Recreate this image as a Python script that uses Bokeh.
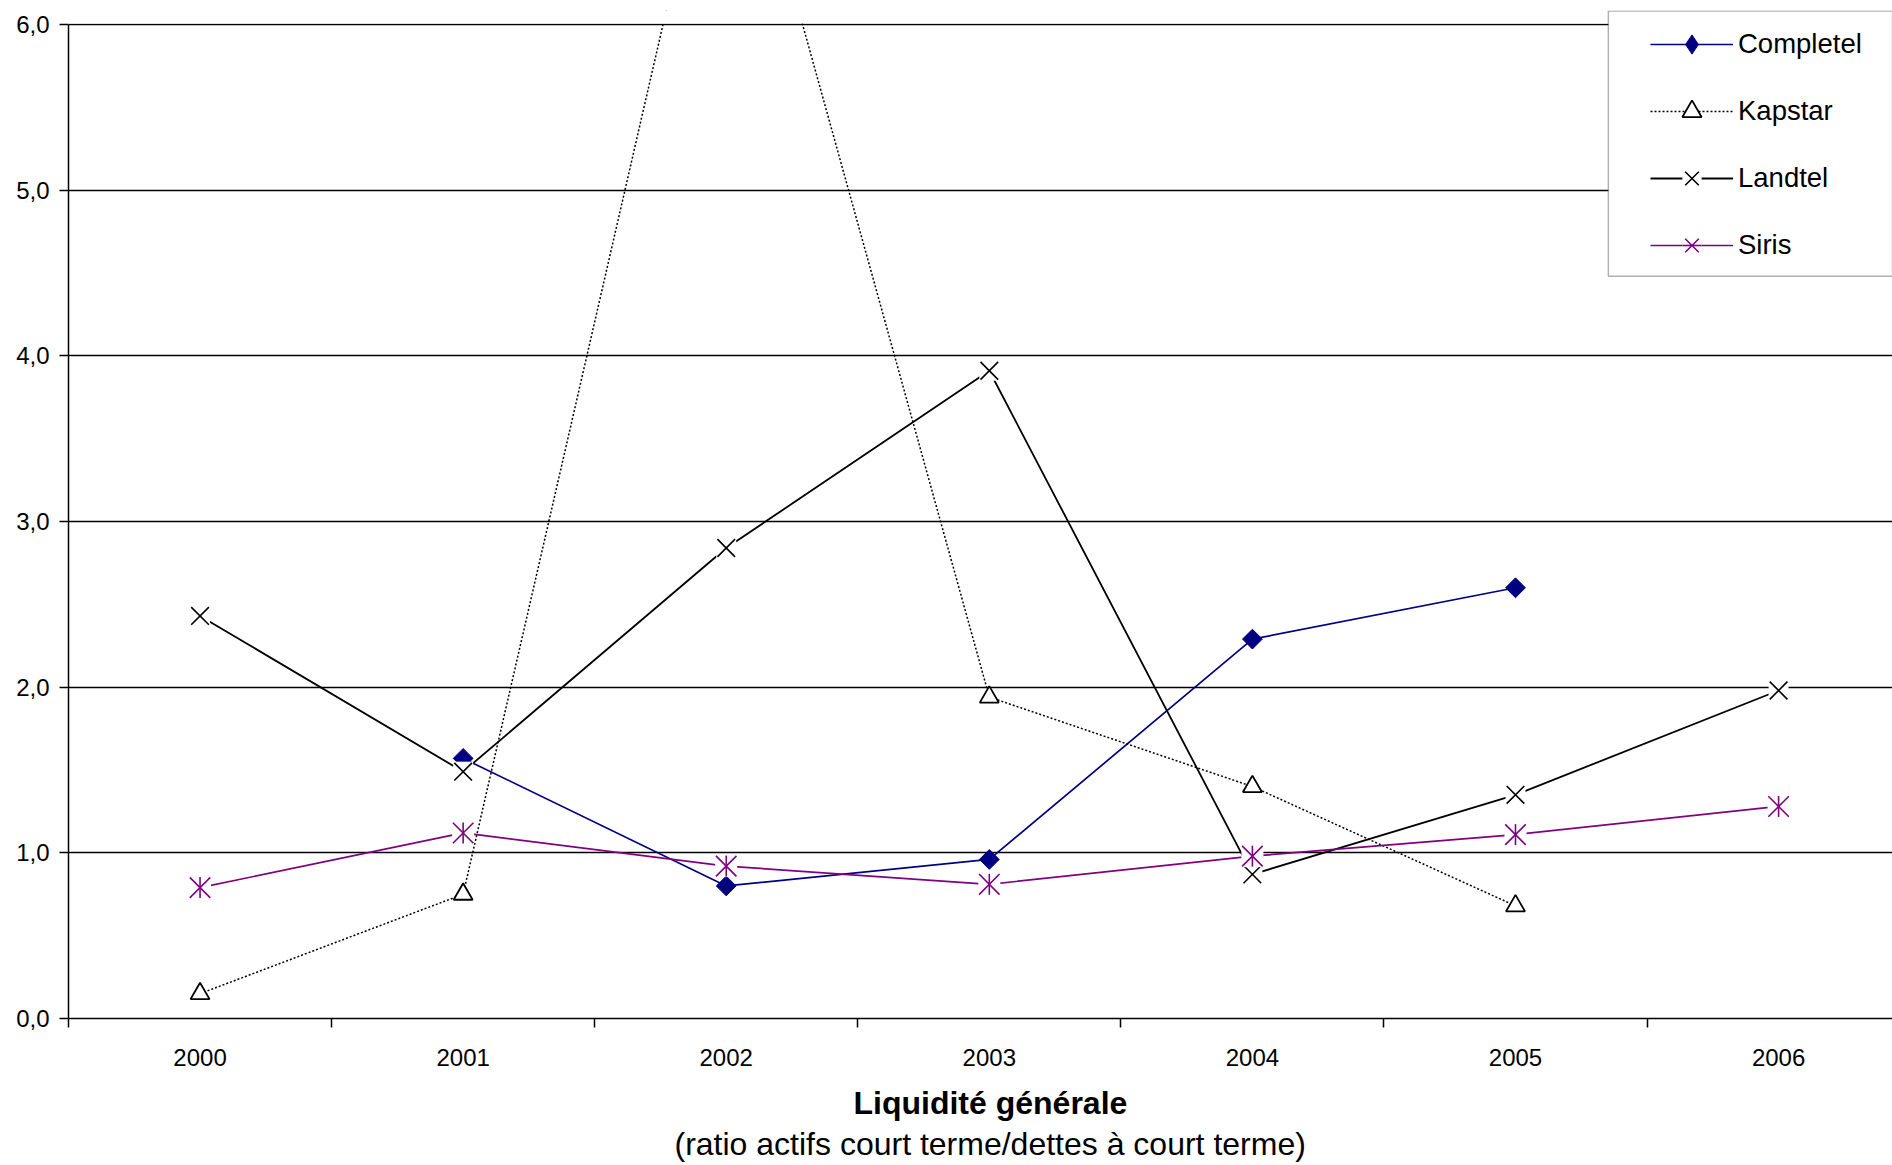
import math
from bokeh.plotting import figure
from bokeh.models import Range1d, FixedTicker, Legend, LegendItem, Title, BoxAnnotation
from bokeh.embed import file_html
from bokeh.resources import INLINE

nan = float("nan")

# ---- data ----
years = [2000, 2001, 2002, 2003, 2004, 2005, 2006]
year_labels = ["2000", "2001", "2002", "2003", "2004", "2005", "2006"]
completel = [nan, 1.57, 0.80, 0.96, 2.29, 2.60, nan]
kapstar = [0.15, 0.75, 7.66, 1.94, 1.40, 0.68, nan]
landtel = [2.43, 1.49, 2.84, 3.91, 0.87, 1.35, 1.98]
siris = [0.79, 1.12, 0.92, 0.81, 0.98, 1.11, 1.28]
y_ticks = [0, 1, 2, 3, 4, 5, 6]
y_tick_labels = ["0,0", "1,0", "2,0", "3,0", "4,0", "5,0", "6,0"]
title_text = "Liquidité générale"
subtitle_text = "(ratio actifs court terme/dettes à court terme)"

FONT = "Liberation Sans"
NAVY = "#000080"
PURPLE = "#800080"

Y_MAX = 6.0
PX_PER_UNIT = 994 / 6.0
Y_TOP = Y_MAX + 14 / PX_PER_UNIT      # room above 6,0 for the legend box

p = figure(width=1892, height=1165,
           x_range=Range1d(1999.5, 2006.433), y_range=Range1d(0, Y_TOP),
           output_backend="svg", toolbar_location=None,
           min_border_left=68, min_border_right=0,
           min_border_top=10, min_border_bottom=147)
p.outline_line_color = None
p.background_fill_color = "white"
p.border_fill_color = "white"

# grid
p.xgrid.visible = False
p.ygrid.ticker = FixedTicker(ticks=y_ticks)
p.ygrid.grid_line_color = "black"
p.ygrid.grid_line_width = 1.3

# x axis
xa = p.xaxis[0]
xa.ticker = FixedTicker(ticks=years, minor_ticks=[y - 0.5 for y in years] + [years[-1] + 0.5])
xa.major_label_overrides = {y: l for y, l in zip(years, year_labels)}
xa.major_tick_line_color = None
xa.major_tick_out = 9
xa.major_tick_in = 0
xa.minor_tick_line_color = "black"
xa.minor_tick_line_width = 1.5
xa.minor_tick_out = 9
xa.minor_tick_in = 0
xa.axis_line_color = "black"
xa.axis_line_width = 1.5
xa.major_label_standoff = 21
xa.major_label_text_font = FONT
xa.major_label_text_font_size = "24px"
xa.major_label_text_color = "black"

# y axis
ya = p.yaxis[0]
ya.ticker = FixedTicker(ticks=y_ticks)
ya.bounds = (0, Y_MAX)
ya.major_label_overrides = {t: l for t, l in zip(y_ticks, y_tick_labels)}
ya.major_tick_line_color = "black"
ya.major_tick_line_width = 1.5
ya.major_tick_out = 9
ya.major_tick_in = 0
ya.minor_tick_line_color = None
ya.axis_line_color = "black"
ya.axis_line_width = 1.5
ya.major_label_standoff = 10
ya.major_label_text_font = FONT
ya.major_label_text_font_size = "24px"
ya.major_label_text_color = "black"

# series
l1 = p.line(years, completel, line_color=NAVY, line_width=1.7)
s1 = p.scatter(years, completel, marker="square", angle=math.pi / 4, size=14,
               fill_color=NAVY, line_color=NAVY)

l2 = p.line(years, kapstar, line_color="black", line_width=1.5, line_dash="2 2")
s2 = p.scatter(years, kapstar, marker="triangle", size=19,
               fill_color="white", line_color="black", line_width=1.8)

l3 = p.line(years, landtel, line_color="black", line_width=1.8)
w3 = p.scatter(years, landtel, marker="square", size=20, fill_color="white", line_color=None)
s3 = p.scatter(years, landtel, marker="x", size=25, line_color="black", line_width=1.6)

l4 = p.line(years, siris, line_color=PURPLE, line_width=1.7)
w4 = p.scatter(years, siris, marker="square", size=22, fill_color="white", line_color=None)
s4a = p.scatter(years, siris, marker="x", size=29, line_color=PURPLE, line_width=1.6)
s4b = p.scatter(years, siris, marker="dash", angle=math.pi / 2, size=21,
                line_color=PURPLE, line_width=1.6)

# legend-only diamond (kept outside the visible y range)
leg_diamond = p.scatter([years[0]], [-10], marker="diamond", size=20,
                        fill_color=NAVY, line_color=NAVY)

# plot area ends at 6,0: mask the strip above it
p.add_layout(BoxAnnotation(bottom=Y_MAX + 1.0 / PX_PER_UNIT, fill_color="white",
                           fill_alpha=1.0, line_color=None))

# legend frame (left edge and top/bottom edges; right side runs off the picture)
p.add_layout(BoxAnnotation(left=2005.353, bottom=4.48, top=Y_TOP - 0.5 / PX_PER_UNIT,
                           fill_color="white", fill_alpha=1.0,
                           line_color="black", line_width=1.5))

legend = Legend(items=[
    LegendItem(label="Completel", renderers=[l1, leg_diamond]),
    LegendItem(label="Kapstar", renderers=[l2, s2]),
    LegendItem(label="Landtel", renderers=[l3, w3, s3]),
    LegendItem(label="Siris", renderers=[l4, w4, s4a, s4b]),
], location=(1582, 749), glyph_width=83, glyph_height=48, label_height=48,
    spacing=19, padding=0, margin=0, label_standoff=5, label_width=200,
    label_text_font=FONT, label_text_font_size="27.5px", label_text_color="black",
    border_line_color=None, background_fill_alpha=0.0)
p.add_layout(legend)

t1 = Title(text=title_text, align="left", offset=785, standoff=29,
           text_font=FONT, text_font_size="32px", text_font_style="bold",
           text_color="black")
t2 = Title(text=subtitle_text, align="left", offset=606, standoff=-24,
           text_font=FONT, text_font_size="32px", text_font_style="normal",
           text_color="black")
p.add_layout(t1, "below")
p.add_layout(t2, "below")

open("out.html", "w").write(file_html(p, INLINE))
